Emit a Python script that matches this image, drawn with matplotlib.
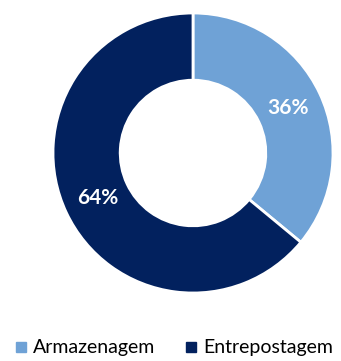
import matplotlib
matplotlib.use("Agg")
import matplotlib.pyplot as plt
from matplotlib.lines import Line2D
import numpy as np

categories = ["Armazenagem", "Entrepostagem"]
values = [36, 64]
labels = ["36%", "64%"]
colors = ["#6FA2D6", "#02215E"]

plt.rcParams['font.family'] = ['Lato', 'DejaVu Sans']

fig = plt.figure(figsize=(3.41, 3.61), dpi=100)
W, H = 341, 361
cx, cy, R = 193, 153, 140
ax = fig.add_axes([(cx - R) / W, (H - cy - R) / H, 2 * R / W, 2 * R / H])
wedges, _ = ax.pie(values, colors=colors, startangle=90, counterclock=False,
                   radius=1.0, wedgeprops=dict(width=0.48, edgecolor="white", linewidth=2))
start = 90
for v, lab in zip(values, labels):
    ang = np.deg2rad(start - v / 100 * 360 / 2)
    start -= v / 100 * 360
    r = 0.75
    ax.text(r * np.cos(ang), r * np.sin(ang), lab, ha="center", va="center",
            color="white", fontsize=15, fontweight="bold")
ax.set_xlim(-1, 1)
ax.set_ylim(-1, 1)
ax.set_aspect("equal")
ax.axis("off")

handles = [Line2D([], [], marker="s", linestyle="none", markersize=6.5,
                  markerfacecolor=c, markeredgecolor=c) for c in colors]
fig.legend(handles, categories, loc="center", bbox_to_anchor=(0.512, 1 - 348 / H),
           ncol=2, frameon=False, fontsize=14, handletextpad=0.35,
           columnspacing=1.6, handlelength=0.5, borderaxespad=0, borderpad=0)

fig.savefig("out.png", dpi=100, facecolor="white")
